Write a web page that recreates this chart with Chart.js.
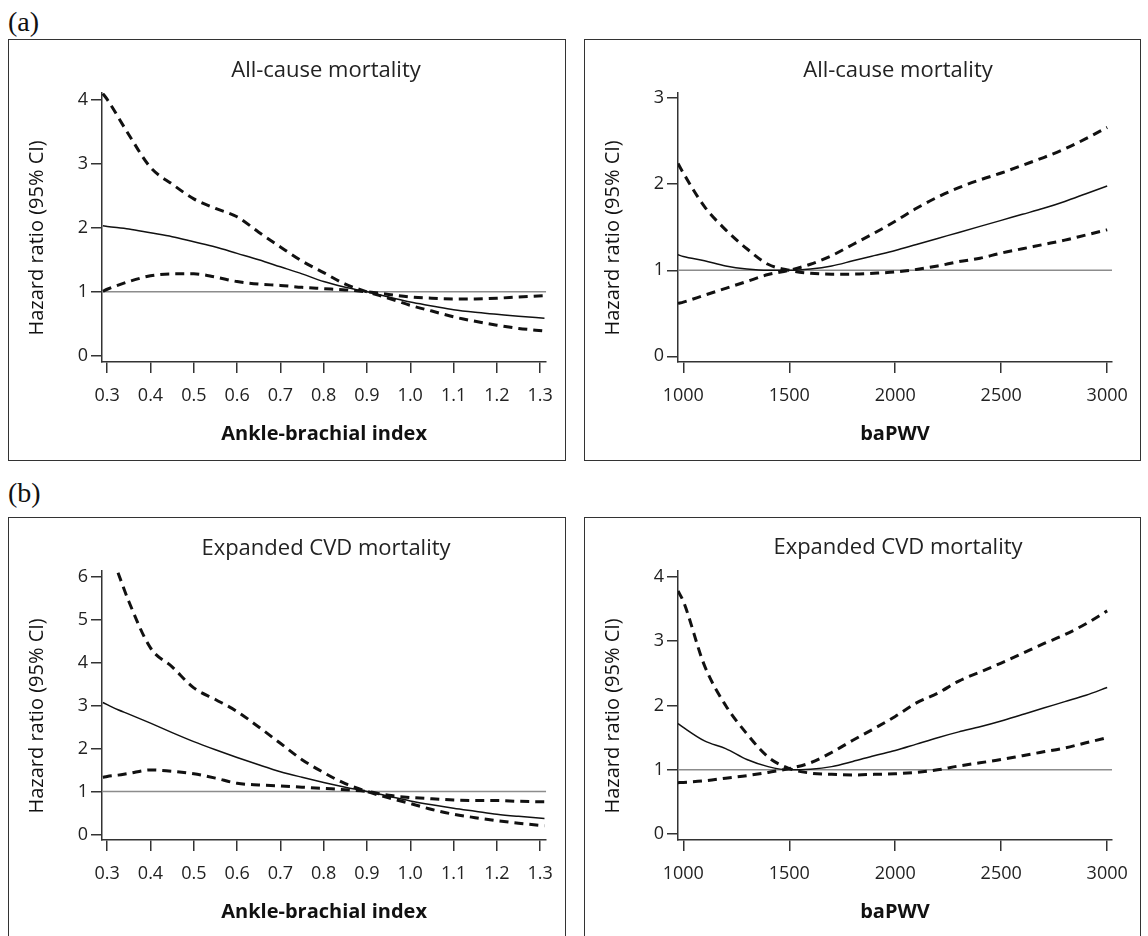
<!DOCTYPE html>
<html>
<head>
<meta charset="utf-8">
<script src="https://cdn.jsdelivr.net/npm/chart.js@4.4.0/dist/chart.umd.min.js"></script>
<style>
  html, body { margin: 0; padding: 0; background: #fff; width: 1148px; height: 936px; overflow: hidden; }
  .box { position: absolute; box-sizing: border-box; border: 1.7px solid #333; }
  canvas.cv { position: absolute; }
  .ptitle { position: absolute; font-family: "Open Sans", sans-serif; font-size: 22px; color: #222; text-align: center; white-space: nowrap; line-height: 24px; height: 24px; }
  .letter { position: absolute; font-family: "Liberation Serif", "Times New Roman", serif; font-size: 28px; color: #111; line-height: 30px; }
</style>
</head>
<body>
<div class="letter" style="left:8px; top:7px;">(a)</div>
<div class="letter" style="left:8px; top:478px;">(b)</div>

<div class="box" style="left:8px; top:39px; width:558px; height:422px;"></div>
<div class="box" style="left:584px; top:39px; width:557px; height:422px;"></div>
<div class="box" style="left:8px; top:517px; width:558px; height:430px;"></div>
<div class="box" style="left:584px; top:517px; width:557px; height:430px;"></div>

<canvas class="cv" id="cA1" width="556" height="420" style="left:9px; top:40px;"></canvas>
<canvas class="cv" id="cA2" width="555" height="420" style="left:585px; top:40px;"></canvas>
<canvas class="cv" id="cB1" width="556" height="420" style="left:9px; top:518px;"></canvas>
<canvas class="cv" id="cB2" width="555" height="420" style="left:585px; top:518px;"></canvas>

<div class="ptitle" style="left:206px; width:240px; top:56px;">All-cause mortality</div>
<div class="ptitle" style="left:778px; width:240px; top:56px;">All-cause mortality</div>
<div class="ptitle" style="left:176px; width:300px; top:534px;">Expanded CVD mortality</div>
<div class="ptitle" style="left:748px; width:300px; top:533px;">Expanded CVD mortality</div>

<script>
// ---------- tick labels ----------
const abiTicks = [0.3, 0.4, 0.5, 0.6, 0.7, 0.8, 0.9, 1.0, 1.1, 1.2, 1.3];
const pwvTicks = [1000, 1500, 2000, 2500, 3000];
const hrTicksA1 = [0, 1, 2, 3, 4];
const hrTicksA2 = [0, 1, 2, 3];
const hrTicksB1 = [0, 1, 2, 3, 4, 5, 6];
const hrTicksB2 = [0, 1, 2, 3, 4];

// ---------- axis ranges ----------
const abiRange = [0.288, 1.314];
const pwvRange = [975, 3023];
const hrRangeA1 = [-0.094, 4.10];
const hrRangeA2 = [-0.066, 3.06];
const hrRangeB1 = [-0.13, 6.13];
const hrRangeB2 = [-0.09, 4.09];
const refValue = 1;

// ---------- (a) All-cause mortality vs ABI ----------
const abiA = [0.29, 0.3, 0.35, 0.4, 0.45, 0.5, 0.55, 0.6, 0.65, 0.7, 0.75, 0.8, 0.85, 0.9, 0.95, 1.0, 1.05, 1.1, 1.15, 1.2, 1.25, 1.31];
const hrA1    = [2.03, 2.02, 1.98, 1.92, 1.86, 1.78, 1.70, 1.60, 1.50, 1.39, 1.28, 1.16, 1.07, 1.00, 0.92, 0.84, 0.78, 0.72, 0.68, 0.65, 0.62, 0.59];
const upperA1 = [4.09, 4.00, 3.45, 2.94, 2.68, 2.45, 2.30, 2.17, 1.93, 1.70, 1.48, 1.30, 1.12, 1.00, 0.90, 0.79, 0.70, 0.61, 0.54, 0.48, 0.43, 0.39];
const lowerA1 = [1.01, 1.04, 1.16, 1.25, 1.28, 1.28, 1.23, 1.16, 1.12, 1.10, 1.07, 1.05, 1.03, 1.00, 0.96, 0.92, 0.90, 0.89, 0.89, 0.90, 0.92, 0.94];

// ---------- (a) All-cause mortality vs baPWV ----------
const pwvX = [975, 1000, 1100, 1200, 1300, 1400, 1500, 1600, 1700, 1800, 1900, 2000, 2100, 2200, 2300, 2400, 2500, 2600, 2700, 2800, 2900, 3000];
const hrA2     = [1.18, 1.16, 1.11, 1.05, 1.015, 1.00, 1.00, 1.015, 1.05, 1.11, 1.17, 1.23, 1.30, 1.37, 1.44, 1.51, 1.58, 1.65, 1.72, 1.80, 1.89, 1.98];
const ciA2high = [2.24, 2.13, 1.74, 1.47, 1.25, 1.07, 1.00, 0.965, 0.955, 0.955, 0.965, 0.98, 1.01, 1.05, 1.10, 1.14, 1.20, 1.25, 1.30, 1.35, 1.41, 1.47];
const ciA2low  = [0.615, 0.63, 0.71, 0.79, 0.87, 0.95, 1.00, 1.07, 1.17, 1.30, 1.43, 1.57, 1.72, 1.85, 1.96, 2.05, 2.13, 2.22, 2.31, 2.41, 2.53, 2.66];

// ---------- (b) Expanded CVD mortality vs ABI ----------
const abiB = [0.29, 0.3, 0.325, 0.35, 0.4, 0.45, 0.5, 0.55, 0.6, 0.65, 0.7, 0.75, 0.8, 0.85, 0.9, 0.95, 1.0, 1.05, 1.1, 1.15, 1.2, 1.25, 1.31];
const hrB1    = [3.07, 3.02, 2.90, 2.80, 2.59, 2.37, 2.16, 1.97, 1.79, 1.62, 1.46, 1.33, 1.21, 1.10, 1.00, 0.89, 0.78, 0.69, 0.61, 0.54, 0.47, 0.42, 0.37];
const upperB1 = [null, null, 6.09, 5.42, 4.34, 3.90, 3.41, 3.14, 2.86, 2.50, 2.12, 1.74, 1.44, 1.18, 1.00, 0.85, 0.72, 0.58, 0.47, 0.39, 0.32, 0.26, 0.20];
const lowerB1 = [1.33, 1.35, 1.38, 1.42, 1.50, 1.47, 1.41, 1.31, 1.19, 1.15, 1.13, 1.10, 1.07, 1.04, 1.00, 0.91, 0.86, 0.83, 0.80, 0.79, 0.79, 0.77, 0.76];

// ---------- (b) Expanded CVD mortality vs baPWV ----------
const hrB2     = [1.72, 1.66, 1.45, 1.33, 1.16, 1.05, 1.00, 1.01, 1.05, 1.13, 1.22, 1.30, 1.40, 1.50, 1.59, 1.67, 1.76, 1.86, 1.96, 2.06, 2.16, 2.28];
const ciB2high = [3.78, 3.62, 2.62, 2.00, 1.56, 1.20, 1.02, 0.95, 0.93, 0.92, 0.93, 0.94, 0.96, 1.00, 1.06, 1.11, 1.16, 1.22, 1.28, 1.34, 1.42, 1.50];
const ciB2low  = [0.80, 0.805, 0.83, 0.87, 0.91, 0.96, 1.02, 1.11, 1.27, 1.46, 1.64, 1.83, 2.04, 2.19, 2.38, 2.52, 2.66, 2.81, 2.96, 3.10, 3.27, 3.47];

// ---------- shared styling ----------
const FONT = '"Open Sans", sans-serif';
const AXIS = '#333';
const INK = '#111';
const yTitle = 'Hazard ratio (95% CI)';

function pts(xs, ys) { return xs.map((x, i) => ({ x: x, y: ys[i] })); }

function makePanel(id, xs, hr, ci1, ci2, xRange, yRange, xTicks, yTicks, xTitle, xFmt, padRight) {
  const dashed = { borderColor: INK, borderWidth: 3, borderDash: [9, 6], pointRadius: 0, fill: false, cubicInterpolationMode: 'monotone', spanGaps: true };
  new Chart(document.getElementById(id), {
    type: 'line',
    data: {
      datasets: [
        Object.assign({ data: pts(xs, ci1) }, dashed),
        Object.assign({ data: pts(xs, ci2) }, dashed),
        { data: pts(xs, hr), borderColor: INK, borderWidth: 1.5, pointRadius: 0, fill: false, cubicInterpolationMode: 'monotone' },
        { data: pts(xRange, [refValue, refValue]), borderColor: '#8c8c8c', borderWidth: 1.5, pointRadius: 0, fill: false, tension: 0 }
      ]
    },
    options: {
      responsive: false,
      animation: false,
      events: [],
      layout: { padding: { top: 53, right: padRight, left: 0, bottom: 0 } },
      plugins: { legend: { display: false }, tooltip: { enabled: false }, title: { display: false } },
      scales: {
        x: {
          type: 'linear', min: xRange[0], max: xRange[1],
          afterBuildTicks: (s) => { s.ticks = xTicks.map(v => ({ value: v })); },
          afterFit: (s) => { s.height = 98; },
          grid: { drawOnChartArea: false, drawTicks: true, tickLength: 11, color: AXIS, lineWidth: 1.5 },
          border: { display: true, color: AXIS, width: 1.5 },
          ticks: { color: '#222', font: { family: FONT, size: 18 }, padding: 12, maxRotation: 0, autoSkip: false, callback: xFmt },
          title: { display: true, text: xTitle, color: '#111', font: { family: FONT, size: 20, weight: 'bold' }, padding: { top: 0, bottom: 14 } }
        },
        y: {
          type: 'linear', min: yRange[0], max: yRange[1],
          afterBuildTicks: (s) => { s.ticks = yTicks.map(v => ({ value: v })); },
          afterFit: (s) => { s.width = 93; },
          grid: { drawOnChartArea: false, drawTicks: true, tickLength: 11, color: AXIS, lineWidth: 1.5 },
          border: { display: true, color: AXIS, width: 1.5 },
          ticks: { color: '#222', font: { family: FONT, size: 18 }, padding: 3, autoSkip: false, callback: (v) => String(v) },
          title: { display: true, text: yTitle + '    ', color: '#111', font: { family: FONT, size: 20 }, padding: { top: 16, bottom: 0 } }
        }
      }
    }
  });
}

const fmtAbi = (v) => Number(v).toFixed(1);
const fmtPwv = (v) => String(v);

makePanel('cA1', abiA, hrA1, upperA1, lowerA1, abiRange, hrRangeA1, abiTicks, hrTicksA1, 'Ankle-brachial index', fmtAbi, 15);
makePanel('cA2', pwvX, hrA2, ciA2high, ciA2low, pwvRange, hrRangeA2, pwvTicks, hrTicksA2, 'baPWV', fmtPwv, 22);
makePanel('cB1', abiB, hrB1, upperB1, lowerB1, abiRange, hrRangeB1, abiTicks, hrTicksB1, 'Ankle-brachial index', fmtAbi, 15);
makePanel('cB2', pwvX, hrB2, ciB2high, ciB2low, pwvRange, hrRangeB2, pwvTicks, hrTicksB2, 'baPWV', fmtPwv, 22);
</script>
</body>
</html>
